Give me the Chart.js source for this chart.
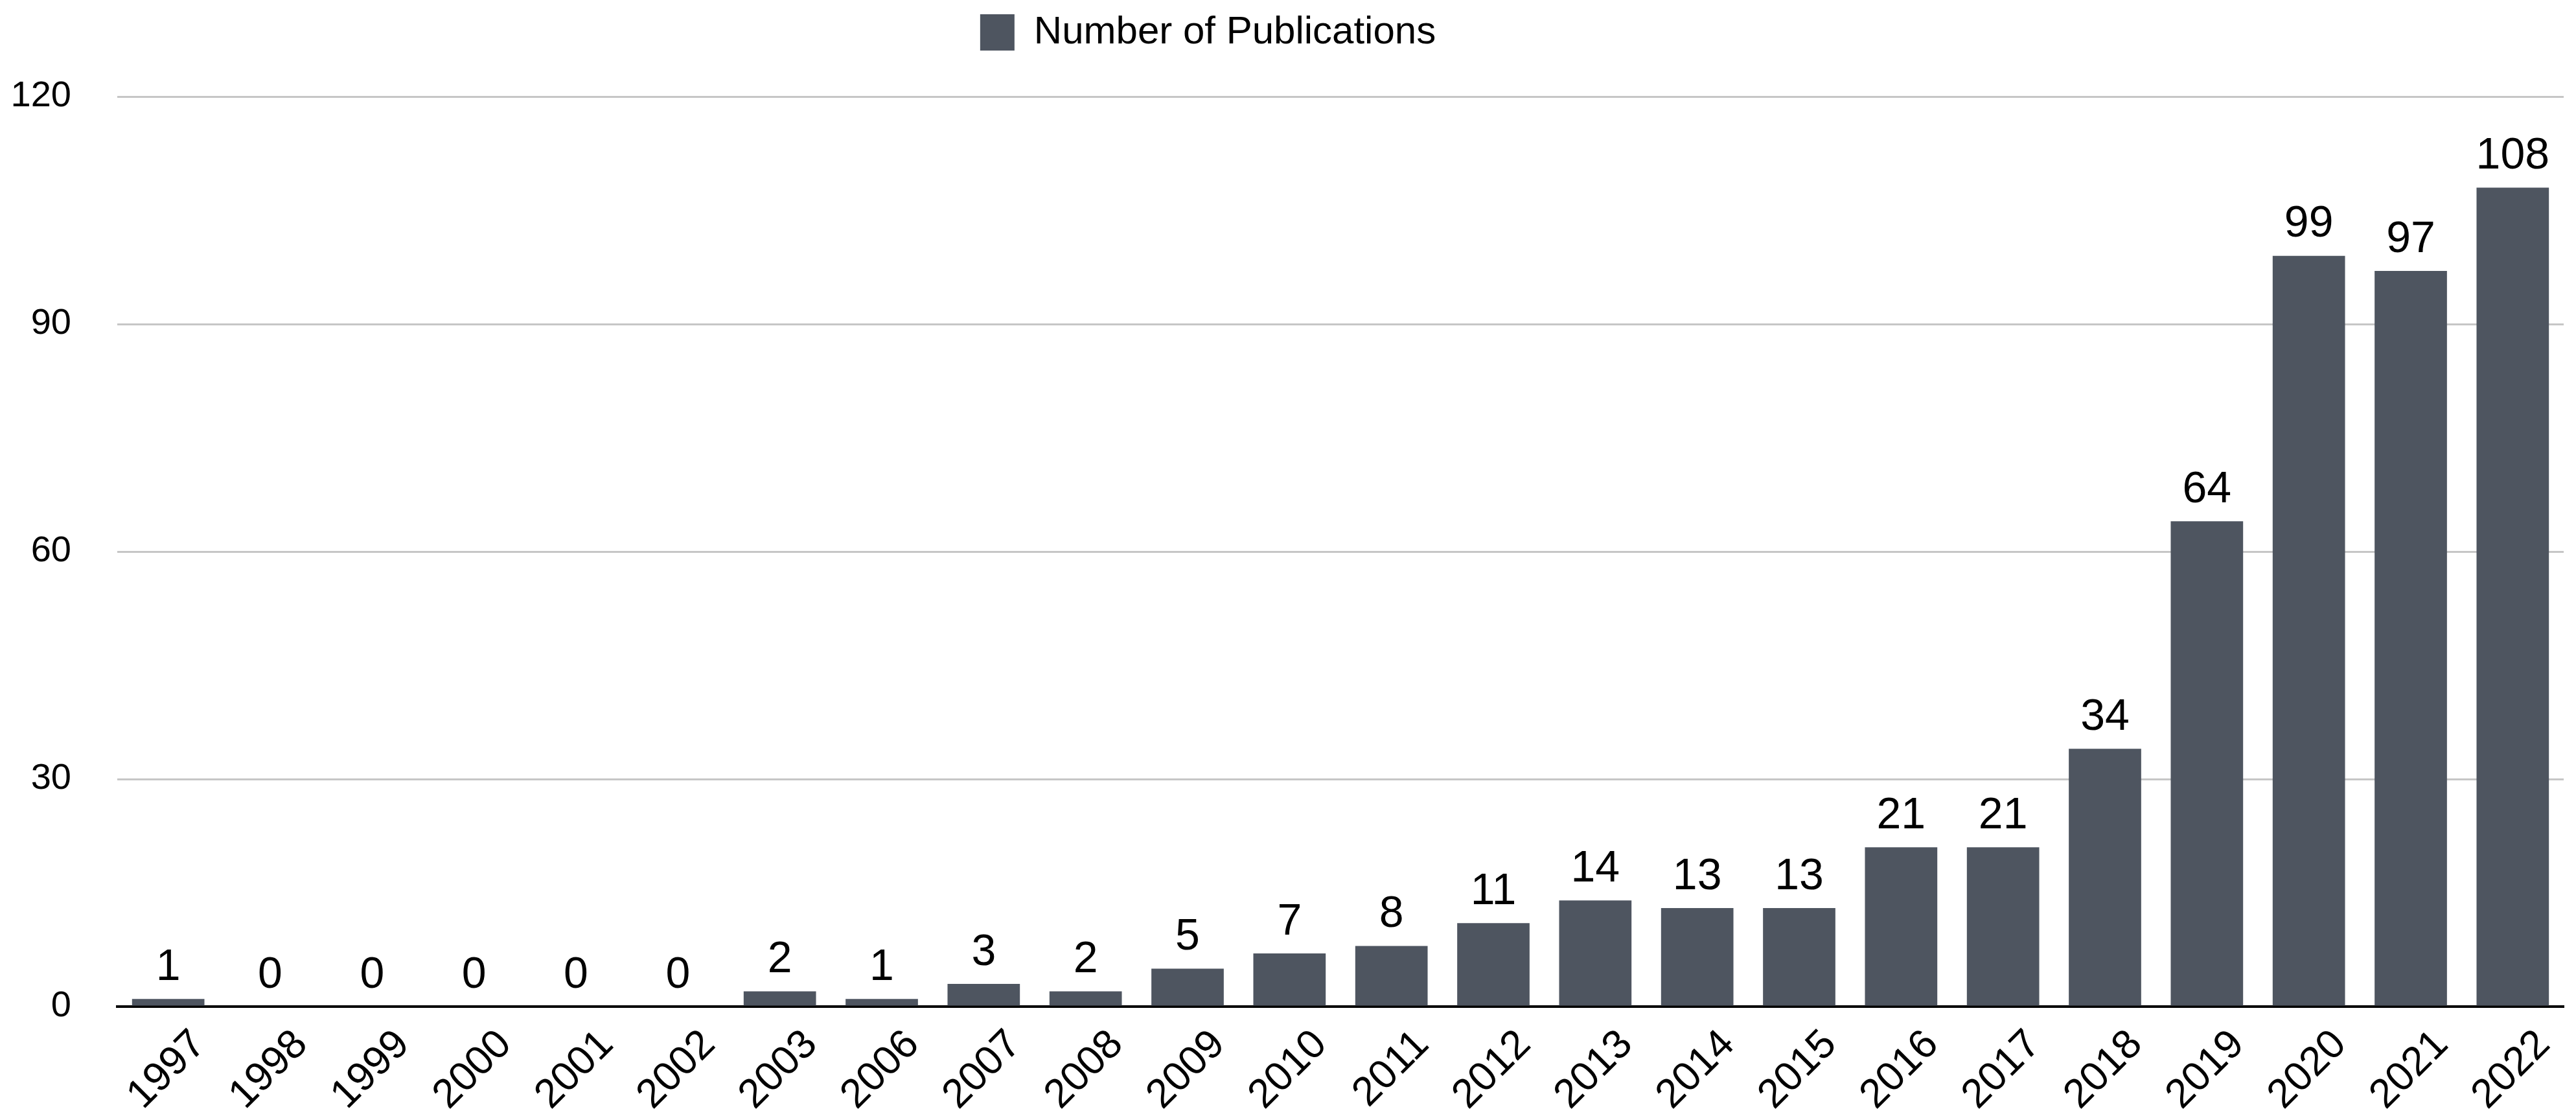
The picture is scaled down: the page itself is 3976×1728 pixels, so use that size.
<!DOCTYPE html>
<html>
<head>
<meta charset="utf-8">
<script src="https://cdn.jsdelivr.net/npm/chart.js@4"></script>
<style>
  html, body { margin: 0; padding: 0; background: #fff; }
  #wrap { width: 3976px; height: 1728px; }
</style>
</head>
<body>
<div id="wrap"><canvas id="js-pub-chart"></canvas></div>
<script>
// chart data
const years = ["1997", "1998", "1999", "2000", "2001", "2002", "2003", "2006", "2007", "2008",
  "2009", "2010", "2011", "2012", "2013", "2014", "2015", "2016", "2017", "2018",
  "2019", "2020", "2021", "2022"];
const publications = [1, 0, 0, 0, 0, 0, 2, 1, 3, 2, 5, 7, 8, 11, 14, 13, 13, 21, 21, 34, 64, 99, 97, 108];
const yTicks = [0, 30, 60, 90, 120];

const barColor = "#4e5560";
const fontFamily = "'Liberation Sans', Arial, Helvetica, sans-serif";

// value labels above each bar
const barValues = {
  id: "barValues",
  afterDatasetsDraw(chart) {
    const { ctx } = chart;
    const meta = chart.getDatasetMeta(0);
    ctx.save();
    ctx.fillStyle = "#000";
    ctx.font = "68px " + fontFamily;
    ctx.textAlign = "center";
    ctx.textBaseline = "bottom";
    meta.data.forEach((bar, i) => {
      ctx.fillText(String(publications[i]), bar.x, bar.y - 14);
    });
    ctx.restore();
  },
};

// legend sits a little left of centre (and higher) in the original
const legendShift = {
  id: "legendShift",
  afterLayout(chart) {
    chart.legend.left -= 114;
    chart.legend.right -= 114;
    chart.legend.top -= 59;
    chart.legend.bottom -= 59;
  },
};

const pubChart = new Chart(document.getElementById("js-pub-chart"), {
  type: "bar",
  data: {
    labels: years,
    datasets: [
      {
        label: "Number of Publications",
        data: publications,
        backgroundColor: barColor,
        borderWidth: 0,
        categoryPercentage: 1,
        barPercentage: 0.71,
      },
    ],
  },
  options: {
    responsive: true,
    maintainAspectRatio: false,
    animation: false,
    layout: {
      padding: { top: 61, right: 19, bottom: 0, left: 0 },
    },
    plugins: {
      legend: {
        display: true,
        position: "top",
        labels: {
          color: "#000",
          boxWidth: 53,
          boxHeight: 56,
          padding: 18,
          font: { family: fontFamily, size: 60 },
        },
      },
      tooltip: { enabled: false },
    },
    scales: {
      x: {
        grid: { display: false, drawTicks: false },
        border: { display: true, color: "#000", width: 4 },
        ticks: {
          color: "#000",
          font: { family: fontFamily, size: 63 },
          minRotation: 45,
          maxRotation: 45,
          padding: 22,
          labelOffset: 48,
          autoSkip: false,
        },
        afterFit(scale) {
          scale.height = 175;
        },
      },
      y: {
        min: 0,
        max: 120,
        grid: {
          drawTicks: false,
          lineWidth: 3,
          color: (c) => (c.tick && c.tick.value === 0 ? "rgba(0,0,0,0)" : "#c6c6c6"),
        },
        border: { display: false },
        afterBuildTicks(scale) {
          scale.ticks = yTicks.map((v) => ({ value: v }));
        },
        ticks: {
          color: "#000",
          font: { family: fontFamily, size: 56 },
          padding: 71,
        },
        afterFit(scale) {
          scale.width = 181;
        },
      },
    },
  },
  plugins: [barValues, legendShift],
});
</script>
</body>
</html>
